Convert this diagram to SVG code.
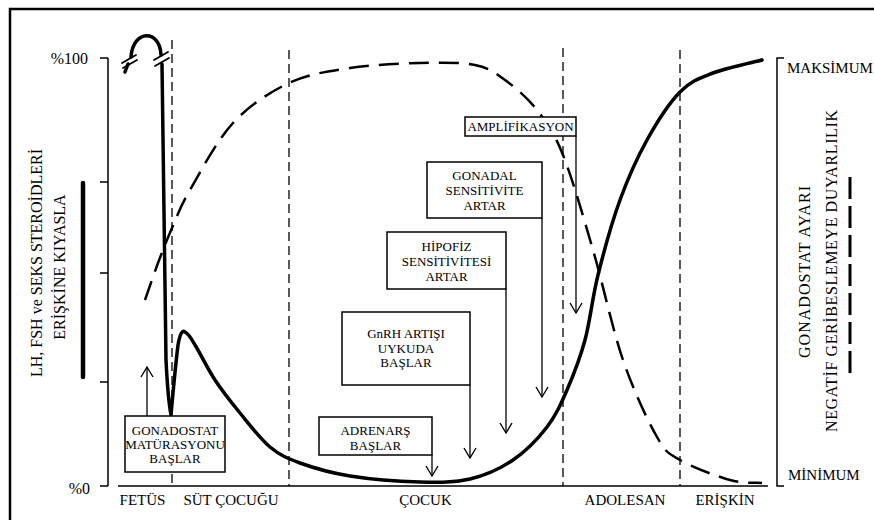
<svg xmlns="http://www.w3.org/2000/svg" width="874" height="520" viewBox="0 0 874 520" font-family="Liberation Serif, Times New Roman, serif">
<defs>
<style>
text{font-family:'Liberation Serif','Times New Roman',serif;fill:#000}
.box rect{fill:#fff;stroke:#000;stroke-width:1.5}
.box text{font-size:13px;text-anchor:middle}
.lbl{font-size:15px;text-anchor:middle}
.vt{font-size:16px;text-anchor:middle}
.ax{stroke:#000;stroke-width:1.5;fill:none}
.vd{stroke:#000;stroke-width:1.3;stroke-dasharray:9 5;fill:none}
.arr{stroke:#000;stroke-width:1.3;fill:none;marker-end:url(#ah)}
</style>
<marker id="ah" markerUnits="userSpaceOnUse" markerWidth="14" markerHeight="14" viewBox="0 0 14 14" refX="12" refY="7" orient="auto">
<path d="M2,1 L12,7 L2,13" fill="none" stroke="#000" stroke-width="1.4"/>
</marker>
</defs>
<rect x="10" y="9" width="900" height="600" fill="#fff" stroke="#000" stroke-width="2.5"/>

<g id="axes">
<path class="ax" d="M108,58 V486 M100,58 H108 M100,182 H108 M100,273 H108 M100,382 H108 M100,486 H108 M118,486 H768"/>
<path class="ax" d="M784,58 H777 V486 H784" stroke-width="1.3"/>
<text x="88" y="64" font-size="16" text-anchor="end">%100</text>
<text x="90" y="494" font-size="16" text-anchor="end">%0</text>
</g>

<g id="phases">
<path class="vd" d="M172,40 V486 M289,50 V486 M563,48 V486 M680,50 V486"/>
<text class="lbl" x="142.5" y="505">FETÜS</text>
<text class="lbl" x="231" y="505">SÜT ÇOCUĞU</text>
<text class="lbl" x="425.5" y="505">ÇOCUK</text>
<text class="lbl" x="625" y="505">ADOLESAN</text>
<text class="lbl" x="725" y="505">ERİŞKİN</text>
</g>

<g id="legend-left">
<line x1="83" y1="183" x2="83" y2="377" stroke="#000" stroke-width="4.5" stroke-linecap="round"/>
<text class="vt" font-size="15" transform="translate(42,263) rotate(-90)">LH, FSH ve SEKS STEROİDLERİ</text>
<text class="vt" font-size="15" transform="translate(65,267) rotate(-90)">ERİŞKİNE KIYASLA</text>
</g>

<g id="legend-right">
<line x1="850" y1="177" x2="850" y2="375" stroke="#000" stroke-width="3" stroke-dasharray="22 7"/>
<text x="787" y="73" font-size="15">MAKSİMUM</text>
<text x="788" y="480" font-size="15">MİNİMUM</text>
<text class="vt" transform="translate(810,272) rotate(-90)" textLength="172" lengthAdjust="spacing">GONADOSTAT AYARI</text>
<text class="vt" transform="translate(837,271) rotate(-90)" textLength="322" lengthAdjust="spacing">NEGATİF GERİBESLEMEYE DUYARLILIK</text>
</g>

<g id="curve-dashed">
<path fill="none" stroke="#000" stroke-width="2.5" stroke-dasharray="20 10" d="M145,300 C147.2,293.8 153.5,275 158,263 C162.5,251 166.7,240.2 172,228 C177.3,215.8 179.8,207.5 190,190 C200.2,172.5 216.5,140.8 233,123 C249.5,105.2 269.5,92.2 289,83 C308.5,73.8 328.2,71.3 350,68 C371.8,64.7 399.2,63.5 420,63 C440.8,62.5 460.8,62.2 475,65 C489.2,67.8 494.7,72.5 505,80 C515.3,87.5 527.3,97.5 537,110 C546.7,122.5 553.7,131.7 563,155 C572.3,178.3 583,215.8 593,250 C603,284.2 612.3,328.8 623,360 C633.7,391.2 647.5,420.3 657,437 C666.5,453.7 667.8,452.8 680,460 C692.2,467.2 716.3,476.2 730,480 C743.7,483.8 756.7,482.5 762,483"/>
</g>

<g id="curve-solid" fill="none" stroke="#000" stroke-width="3.5" stroke-linecap="round" stroke-linejoin="round">
<path d="M125,72 L128,64"/>
<path d="M131,57 C133,29 160,29 161,55"/>
<path d="M162,64 L166,360 Q168,400 171,415 Q175,370 178,345 Q181,328 185,332 C189,334 191,338 195,345 C200.3,353.3 207.5,368.7 215,380 C222.5,391.3 230.8,401.8 240,413 C249.2,424.2 260,438.7 270,447 C280,455.3 286.7,458.2 300,463 C313.3,467.8 330,472.8 350,476 C370,479.2 400,481.5 420,482 C440,482.5 454.5,482.7 470,479 C485.5,475.3 500.2,468.7 513,460 C525.8,451.3 538,438.7 547,427 C556,415.3 560.7,404.5 567,390 C573.3,375.5 579.8,359.2 585,340 C590.2,320.8 592.2,298.3 598,275 C603.8,251.7 611.8,222.5 620,200 C628.2,177.5 637,158 647,140 C657,122 669,103.2 680,92 C691,80.8 699.3,78.3 713,73 C726.7,67.7 753.8,62.2 762,60"/>
<path d="M122,63 L136,55 M123,68 L137,60 M154,60 L168,52 M155,66 L169,58" stroke-width="1.8"/>
</g>

<g id="connectors">
<line class="arr" x1="147" y1="416" x2="147" y2="367"/>
<line class="arr" x1="432" y1="455" x2="432" y2="476"/>
<line class="arr" x1="470" y1="385" x2="470" y2="458"/>
<line class="arr" x1="506" y1="289" x2="506" y2="433"/>
<line class="arr" x1="542" y1="218" x2="542" y2="397"/>
<line class="arr" x1="576" y1="136" x2="576" y2="313"/>
</g>

<g id="box-gonadostat" class="box">
<rect x="125" y="416" width="100" height="56"/>
<text x="175" y="435" font-size="12">GONADOSTAT</text>
<text x="175" y="449" font-size="12">MATÜRASYONU</text>
<text x="175" y="463" font-size="12">BAŞLAR</text>
</g>
<g id="box-adrenars" class="box">
<rect x="319" y="417" width="113" height="38"/>
<text x="375.5" y="434.5">ADRENARŞ</text>
<text x="375.5" y="449.5">BAŞLAR</text>
</g>
<g id="box-gnrh" class="box">
<rect x="342" y="312" width="128" height="73"/>
<text x="406" y="338">GnRH ARTIŞI</text>
<text x="406" y="353">UYKUDA</text>
<text x="406" y="367">BAŞLAR</text>
</g>
<g id="box-hipofiz" class="box">
<rect x="387" y="232" width="119" height="57"/>
<text x="446.5" y="251">HİPOFİZ</text>
<text x="446.5" y="266">SENSİTİVİTESİ</text>
<text x="446.5" y="281">ARTAR</text>
</g>
<g id="box-gonadal" class="box">
<rect x="427" y="162" width="115" height="56"/>
<text x="484.5" y="180">GONADAL</text>
<text x="484.5" y="195">SENSİTİVİTE</text>
<text x="484.5" y="210">ARTAR</text>
</g>
<g id="box-amplifikasyon" class="box">
<rect x="465" y="117" width="111" height="19"/>
<text x="520.5" y="131">AMPLİFİKASYON</text>
</g>
</svg>
